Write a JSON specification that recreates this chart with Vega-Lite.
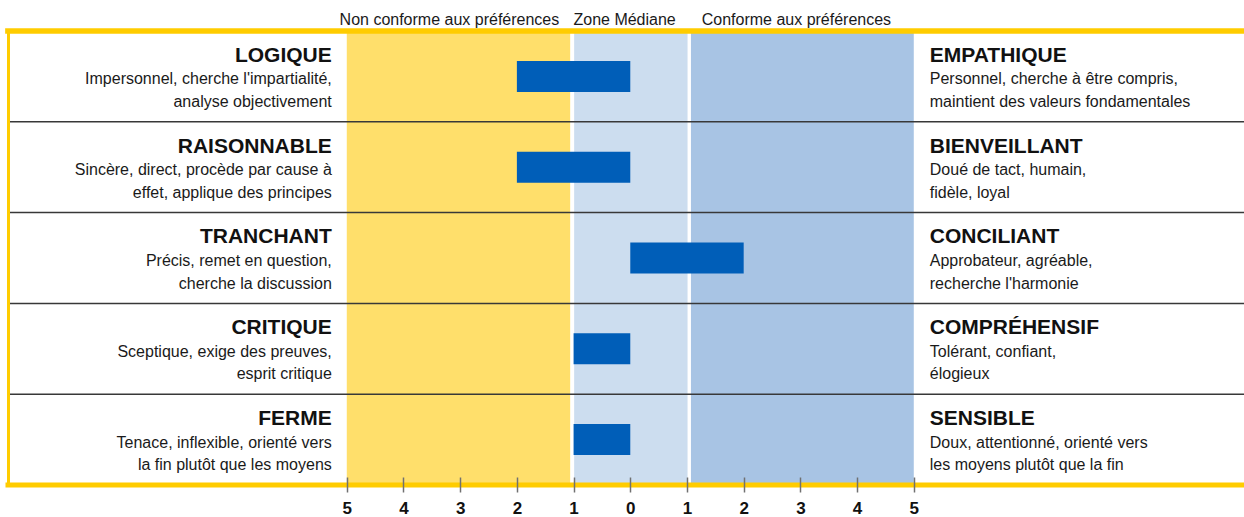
{
  "$schema": "https://vega.github.io/schema/vega-lite/v6.json",
  "width": 1236,
  "height": 454,
  "autosize": "none",
  "padding": {"left": 8, "top": 31, "right": 0, "bottom": 32},
  "background": "white",
  "config": {
    "view": {"stroke": null},
    "font": "Liberation Sans",
    "text": {"font": "Liberation Sans"}
  },
  "datasets": {
    "rows": [
      {"trait": "LOGIQUE", "leftDesc": "Impersonnel, cherche l'impartialité,\nanalyse objectivement", "right": "EMPATHIQUE", "rightDesc": "Personnel, cherche à être compris,\nmaintient des valeurs fondamentales", "score": -2},
      {"trait": "RAISONNABLE", "leftDesc": "Sincère, direct, procède par cause à\neffet, applique des principes", "right": "BIENVEILLANT", "rightDesc": "Doué de tact, humain,\nfidèle, loyal", "score": -2},
      {"trait": "TRANCHANT", "leftDesc": "Précis, remet en question,\ncherche la discussion", "right": "CONCILIANT", "rightDesc": "Approbateur, agréable,\nrecherche l'harmonie", "score": 2},
      {"trait": "CRITIQUE", "leftDesc": "Sceptique, exige des preuves,\nesprit critique", "right": "COMPRÉHENSIF", "rightDesc": "Tolérant, confiant,\nélogieux", "score": -1},
      {"trait": "FERME", "leftDesc": "Tenace, inflexible, orienté vers\nla fin plutôt que les moyens", "right": "SENSIBLE", "rightDesc": "Doux, attentionné, orienté vers\nles moyens plutôt que la fin", "score": -1}
    ],
    "zones": [
      {"zone": "Non conforme", "start": -5, "end": -1.06, "header": "Non conforme aux préférences", "center": -3.19},
      {"zone": "Médiane", "start": -0.99, "end": 1.01, "header": "Zone Médiane", "center": -0.1},
      {"zone": "Conforme", "start": 1.07, "end": 5, "header": "Conforme aux préférences", "center": 2.93}
    ]
  },
  "layer": [
    {
      "data": {"name": "zones"},
      "mark": {"type": "rect"},
      "encoding": {
        "x": {
          "field": "start", "type": "quantitative",
          "scale": {"domain": [-10.975, 10.824], "nice": false, "zero": false},
          "axis": {
            "values": [-5, -4, -3, -2, -1, 0, 1, 2, 3, 4, 5],
            "labelExpr": "'' + abs(datum.value)",
            "orient": "bottom", "offset": -8, "domain": false, "grid": false,
            "tickSize": 15, "tickColor": "#707070", "tickWidth": 1.5,
            "labelFont": "Liberation Sans", "labelFontWeight": "bold", "labelFontSize": 17,
            "labelColor": "#111111", "labelPadding": 8, "title": null, "zindex": 1
          }
        },
        "x2": {"field": "end"},
        "color": {
          "field": "zone", "type": "nominal",
          "scale": {"domain": ["Non conforme", "Médiane", "Conforme"], "range": ["#FFDF6B", "#CCDDEF", "#A8C4E4"]},
          "legend": null
        }
      }
    },
    {
      "data": {"name": "rows"},
      "mark": {"type": "rule", "color": "#383838", "strokeWidth": 1.5},
      "encoding": {
        "y": {
          "field": "trait", "type": "nominal", "bandPosition": 0,
          "scale": {"domain": ["LOGIQUE", "RAISONNABLE", "TRANCHANT", "CRITIQUE", "FERME"], "paddingInner": 0, "paddingOuter": 0},
          "axis": {"domain": true, "domainColor": "#FFCC00", "domainWidth": 3, "ticks": false, "labels": false, "grid": false, "title": null, "zindex": 1}
        }
      }
    },
    {
      "data": {"name": "rows"},
      "mark": {"type": "bar", "color": "#005EB8", "height": 31},
      "encoding": {
        "y": {"field": "trait", "type": "nominal"},
        "x": {"field": "score", "type": "quantitative"},
        "x2": {"datum": 0}
      }
    },
    {
      "mark": {"type": "rule", "color": "#000000", "strokeWidth": 1.5},
      "encoding": {"x": {"datum": 0, "type": "quantitative"}}
    },
    {
      "data": {"name": "rows"},
      "transform": [{"filter": "datum.trait === 'LOGIQUE'"}],
      "mark": {"type": "rule", "color": "#FFCC00", "strokeWidth": 5.7, "strokeCap": "square"},
      "encoding": {"y": {"field": "trait", "type": "nominal", "bandPosition": 0}}
    },
    {
      "data": {"name": "rows"},
      "transform": [{"filter": "datum.trait === 'FERME'"}],
      "mark": {"type": "rule", "color": "#FFCC00", "strokeWidth": 5, "strokeCap": "square"},
      "encoding": {"y": {"field": "trait", "type": "nominal", "bandPosition": 1}}
    },
    {
      "data": {"name": "rows"},
      "mark": {"type": "text", "align": "right", "baseline": "alphabetic", "dx": -15, "dy": -14.7, "fontSize": 21, "fontWeight": "bold", "color": "#111111"},
      "encoding": {
        "y": {"field": "trait", "type": "nominal"},
        "x": {"datum": -5, "type": "quantitative"},
        "text": {"field": "trait"}
      }
    },
    {
      "data": {"name": "rows"},
      "mark": {"type": "text", "align": "right", "baseline": "alphabetic", "dx": -15, "dy": 8, "fontSize": 16, "lineBreak": "\n", "lineHeight": 22.7, "color": "#1a1a1a"},
      "encoding": {
        "y": {"field": "trait", "type": "nominal"},
        "x": {"datum": -5, "type": "quantitative"},
        "text": {"field": "leftDesc"}
      }
    },
    {
      "data": {"name": "rows"},
      "mark": {"type": "text", "align": "left", "baseline": "alphabetic", "dx": 16, "dy": -14.7, "fontSize": 21, "fontWeight": "bold", "color": "#111111"},
      "encoding": {
        "y": {"field": "trait", "type": "nominal"},
        "x": {"datum": 5, "type": "quantitative"},
        "text": {"field": "right"}
      }
    },
    {
      "data": {"name": "rows"},
      "mark": {"type": "text", "align": "left", "baseline": "alphabetic", "dx": 16, "dy": 8, "fontSize": 16, "lineBreak": "\n", "lineHeight": 22.7, "color": "#1a1a1a"},
      "encoding": {
        "y": {"field": "trait", "type": "nominal"},
        "x": {"datum": 5, "type": "quantitative"},
        "text": {"field": "rightDesc"}
      }
    },
    {
      "data": {"name": "zones"},
      "mark": {"type": "text", "align": "center", "baseline": "alphabetic", "dy": -51.4, "fontSize": 16, "color": "#1a1a1a"},
      "encoding": {
        "y": {"datum": "LOGIQUE", "type": "nominal"},
        "x": {"field": "center", "type": "quantitative"},
        "text": {"field": "header"}
      }
    }
  ]
}
